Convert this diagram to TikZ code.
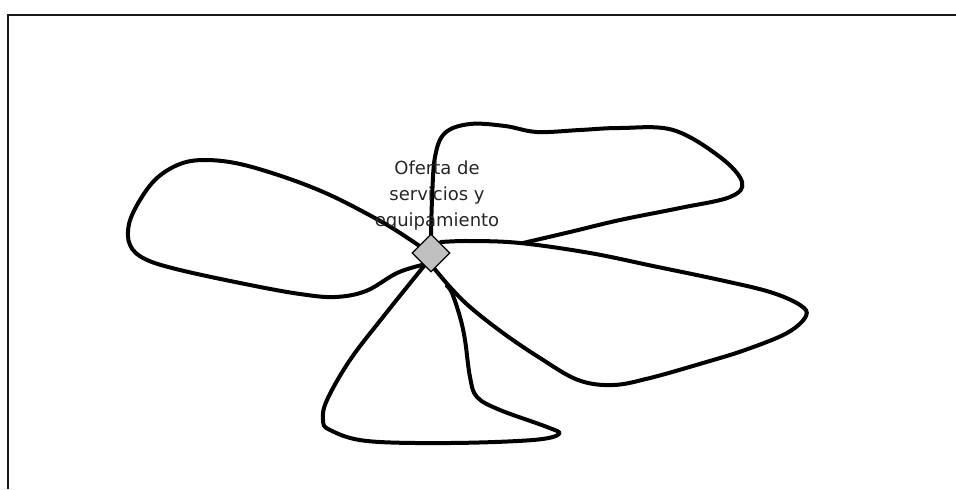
\documentclass[tikz,border=0pt]{standalone}
\usepackage{fontspec}
\setmainfont{DejaVu Sans}
\usetikzlibrary{shapes.geometric}
\definecolor{knotgray}{RGB}{192,192,192}
\tikzset{
  lobe/.style={line width=3pt, line join=round, line cap=round},
  knot/.style={diamond, draw=black, line width=0.9pt, fill=knotgray,
    inner sep=0pt, minimum width=28.5pt, minimum height=28.5pt},
}
\begin{document}
\begin{tikzpicture}[x=0.75pt, y=-0.75pt]
  \useasboundingbox (0,0) rectangle (956,489);
  % frame
  \draw[line width=1.5pt, black!90] (8,489) -- (8,15) -- (956,15);

  % left lobe
  \draw[lobe] plot[smooth, tension=0.6] coordinates {(421,247) (397,231) (373,217) (330,195) (287,178) (240,164) (205,160) (180,164) (157,178) (140,200) (129,224) (130,245) (145,259) (180,270) (250,285) (300,294) (335,297) (366,291) (397,273) (422,265)};
  % top right lobe
  \draw[lobe] plot[smooth, tension=0.6] coordinates {(431,238) (432,200) (435,157) (445,133) (470,124) (505,126) (537,132) (580,130) (620,128) (673,130) (720,157) (742,182) (730,197) (680,208) (620,220) (570,232) (523,243)};
  % right lobe
  \draw[lobe] plot[smooth, tension=0.6] coordinates {(441,242) (470,241) (520,243) (590,253) (653,266) (720,280) (770,292) (800,305) (806,316) (787,333) (745,350) (703,363) (650,378) (613,385) (578,380) (540,358) (503,333) (470,307) (450,287) (433,267)};
  % bottom lobe
  \draw[lobe] plot[smooth, tension=0.6] coordinates {(424,266) (383,317) (350,360) (327,400) (323,420) (330,430) (367,441) (450,443) (533,440) (559,434) (547,427) (500,410) (477,397) (470,377) (465,340) (460,317) (452,293) (447,286)};

  \node[knot] (ofer) at (431,253) {};
  \node[font=\fontsize{13.5}{19.5}\selectfont, align=center, anchor=base, text=black!85] (lbl) at (437,226) {Oferta de\\servicios y\\equipamiento};
\end{tikzpicture}
\end{document}
